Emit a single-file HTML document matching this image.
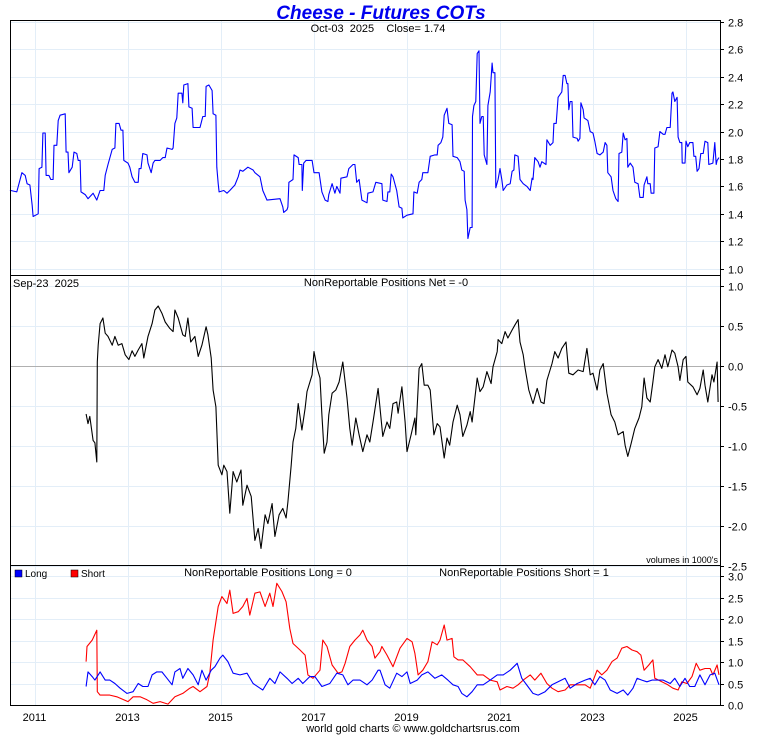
<!DOCTYPE html>
<html><head><meta charset="utf-8"><style>
html,body{margin:0;padding:0;background:#fff;}
svg{display:block;font-family:"Liberation Sans",Arial,sans-serif;}
</style></head><body>
<svg id="chart" width="760" height="735" viewBox="0 0 760 735">
<text x="381" y="19" text-anchor="middle" font-size="19" font-weight="bold" font-style="italic" fill="#0000ee">Cheese - Futures COTs</text>
<g id="grid"></g>
<g id="series"></g>
<g id="frame">
<rect x="10.5" y="20.5" width="710" height="685" fill="none" stroke="#000"/>
<line x1="10" y1="275.5" x2="721" y2="275.5" stroke="#000"/>
<line x1="10" y1="565.5" x2="721" y2="565.5" stroke="#000"/>
</g>
<g id="axes" font-size="11" fill="#000"></g>
<text x="378" y="32" text-anchor="middle" font-size="11" xml:space="preserve">Oct-03  2025    Close= 1.74</text>
<text x="13" y="287" font-size="11" xml:space="preserve">Sep-23  2025</text>
<text x="386" y="286" text-anchor="middle" font-size="11">NonReportable Positions Net = -0</text>
<text x="718" y="563" text-anchor="end" font-size="9">volumes in 1000's</text>
<rect x="15" y="570" width="7" height="7" fill="#0000ff" stroke="#000" stroke-width="0.5"/>
<text x="25" y="577" font-size="10">Long</text>
<rect x="71" y="570" width="7" height="7" fill="#ff0000" stroke="#000" stroke-width="0.5"/>
<text x="81" y="577" font-size="10">Short</text>
<text x="268" y="576" text-anchor="middle" font-size="11">NonReportable Positions Long = 0</text>
<text x="524" y="576" text-anchor="middle" font-size="11">NonReportable Positions Short = 1</text>
<text x="413" y="732" text-anchor="middle" font-size="11">world gold charts © www.goldchartsrus.com</text>
</svg>
<script>
const yearTicks = [2011,2013,2015,2017,2019,2021,2023,2025];
const priceTicks = [1.0,1.2,1.4,1.6,1.8,2.0,2.2,2.4,2.6,2.8];
const netTicks = [1.0,0.5,0.0,-0.5,-1.0,-1.5,-2.0,-2.5];
const posTicks = [0.0,0.5,1.0,1.5,2.0,2.5,3.0];

const priceDates = [2010.47,2010.49,2010.62,2010.73,2010.80,2010.84,2010.90,2010.95,2010.97,2011.08,2011.10,2011.16,2011.18,2011.23,2011.25,2011.31,2011.35,2011.40,2011.42,2011.48,2011.51,2011.55,2011.66,2011.68,2011.72,2011.74,2011.81,2011.85,2011.91,2011.94,2011.98,2012.00,2012.09,2012.15,2012.26,2012.34,2012.41,2012.49,2012.52,2012.58,2012.67,2012.73,2012.75,2012.82,2012.86,2012.90,2012.92,2013.01,2013.05,2013.10,2013.16,2013.23,2013.25,2013.29,2013.33,2013.42,2013.44,2013.51,2013.55,2013.59,2013.70,2013.76,2013.81,2013.85,2013.96,2013.98,2014.02,2014.06,2014.09,2014.17,2014.19,2014.21,2014.30,2014.32,2014.39,2014.41,2014.56,2014.62,2014.67,2014.69,2014.75,2014.82,2014.84,2014.90,2014.92,2014.95,2014.97,2015.07,2015.14,2015.20,2015.31,2015.38,2015.42,2015.48,2015.59,2015.70,2015.74,2015.85,2015.91,2016.00,2016.28,2016.34,2016.36,2016.43,2016.45,2016.47,2016.56,2016.58,2016.67,2016.69,2016.75,2016.76,2016.79,2016.84,2016.97,2017.01,2017.12,2017.18,2017.25,2017.31,2017.33,2017.40,2017.46,2017.50,2017.57,2017.59,2017.72,2017.76,2017.85,2017.89,2017.93,2017.98,2018.04,2018.15,2018.17,2018.28,2018.34,2018.47,2018.49,2018.58,2018.60,2018.64,2018.67,2018.71,2018.79,2018.84,2018.90,2018.92,2019.01,2019.14,2019.16,2019.23,2019.27,2019.33,2019.35,2019.46,2019.51,2019.61,2019.66,2019.68,2019.74,2019.78,2019.81,2019.87,2019.91,2019.98,2020.00,2020.09,2020.15,2020.19,2020.24,2020.26,2020.30,2020.32,2020.37,2020.41,2020.42,2020.45,2020.49,2020.52,2020.56,2020.58,2020.62,2020.65,2020.67,2020.73,2020.75,2020.80,2020.84,2020.86,2020.90,2020.92,2020.97,2021.01,2021.05,2021.08,2021.16,2021.23,2021.27,2021.31,2021.33,2021.40,2021.44,2021.51,2021.59,2021.66,2021.70,2021.72,2021.76,2021.83,2021.87,2021.91,2022.00,2022.02,2022.09,2022.15,2022.17,2022.22,2022.26,2022.34,2022.37,2022.41,2022.45,2022.47,2022.49,2022.52,2022.56,2022.58,2022.67,2022.69,2022.73,2022.75,2022.80,2022.82,2022.90,2022.95,2023.01,2023.05,2023.10,2023.16,2023.23,2023.27,2023.31,2023.33,2023.40,2023.44,2023.50,2023.55,2023.57,2023.63,2023.66,2023.70,2023.74,2023.76,2023.81,2023.87,2023.91,2023.98,2024.02,2024.09,2024.11,2024.17,2024.19,2024.24,2024.26,2024.32,2024.34,2024.41,2024.45,2024.52,2024.56,2024.60,2024.67,2024.71,2024.73,2024.77,2024.82,2024.84,2024.88,2024.92,2024.93,2024.99,2025.01,2025.05,2025.09,2025.16,2025.18,2025.22,2025.25,2025.29,2025.33,2025.38,2025.42,2025.48,2025.50,2025.59,2025.63,2025.66,2025.68,2025.72];
const priceValues = [1.57,1.57,1.56,1.70,1.68,1.62,1.61,1.46,1.38,1.40,1.73,1.74,1.99,1.99,1.68,1.68,1.65,1.65,1.90,1.90,2.08,2.12,2.13,1.85,1.85,1.70,1.74,1.85,1.84,1.79,1.79,1.56,1.54,1.51,1.55,1.50,1.57,1.57,1.68,1.76,1.87,1.88,2.06,2.06,2.01,2.01,1.79,1.77,1.74,1.67,1.63,1.63,1.73,1.73,1.84,1.83,1.77,1.70,1.77,1.79,1.79,1.81,1.81,1.88,1.87,1.88,2.06,2.10,2.28,2.28,2.21,2.34,2.35,2.18,2.17,2.03,2.03,2.11,2.11,2.33,2.34,2.30,2.13,2.12,1.74,1.62,1.56,1.57,1.55,1.57,1.61,1.67,1.72,1.71,1.74,1.72,1.70,1.67,1.57,1.50,1.51,1.45,1.41,1.43,1.45,1.63,1.65,1.83,1.81,1.76,1.76,1.57,1.77,1.79,1.79,1.70,1.70,1.56,1.50,1.49,1.54,1.62,1.55,1.60,1.55,1.66,1.67,1.73,1.76,1.76,1.63,1.65,1.50,1.48,1.55,1.56,1.63,1.62,1.50,1.49,1.56,1.56,1.69,1.67,1.57,1.45,1.44,1.37,1.39,1.40,1.56,1.55,1.63,1.65,1.70,1.70,1.82,1.83,1.83,1.90,1.92,1.96,2.12,2.17,2.06,2.05,1.82,1.81,1.78,1.72,1.71,1.50,1.43,1.22,1.30,1.30,2.11,2.19,2.22,2.57,2.59,2.06,2.11,2.11,1.83,1.76,2.19,2.29,2.50,2.43,2.43,1.59,1.65,1.73,1.65,1.57,1.61,1.62,1.71,1.72,1.83,1.82,1.65,1.62,1.60,1.57,1.66,1.65,1.81,1.78,1.74,1.78,1.76,1.94,1.90,1.92,2.06,2.06,2.25,2.29,2.41,2.41,2.35,2.35,2.16,2.22,2.22,1.96,1.95,1.93,1.95,2.21,2.16,2.10,2.08,2.00,1.99,1.93,1.84,1.83,1.85,1.92,1.90,1.70,1.67,1.57,1.51,1.49,1.84,1.85,1.99,1.94,1.95,1.74,1.77,1.74,1.63,1.62,1.52,1.52,1.61,1.67,1.62,1.62,1.55,1.55,1.88,1.89,2.00,1.98,1.98,2.03,2.03,2.28,2.29,2.22,2.25,1.96,1.92,1.92,1.77,1.77,1.93,1.89,1.92,1.92,1.82,1.82,1.71,1.73,1.84,1.84,1.93,1.92,1.76,1.77,1.92,1.76,1.79,1.81];

const netDates = [2012.11,2012.15,2012.19,2012.26,2012.30,2012.34,2012.35,2012.37,2012.41,2012.47,2012.52,2012.58,2012.67,2012.73,2012.80,2012.88,2012.95,2013.03,2013.10,2013.16,2013.23,2013.31,2013.35,2013.44,2013.53,2013.59,2013.66,2013.74,2013.81,2013.91,2013.98,2014.02,2014.09,2014.19,2014.24,2014.30,2014.36,2014.45,2014.52,2014.60,2014.69,2014.73,2014.80,2014.84,2014.90,2014.95,2015.03,2015.07,2015.14,2015.20,2015.27,2015.35,2015.44,2015.48,2015.57,2015.66,2015.74,2015.81,2015.87,2015.96,2016.02,2016.11,2016.17,2016.26,2016.34,2016.41,2016.45,2016.52,2016.56,2016.62,2016.67,2016.75,2016.82,2016.86,2016.97,2017.01,2017.08,2017.14,2017.18,2017.23,2017.29,2017.33,2017.40,2017.48,2017.55,2017.63,2017.72,2017.78,2017.83,2017.91,2017.98,2018.06,2018.15,2018.21,2018.28,2018.39,2018.49,2018.58,2018.64,2018.71,2018.79,2018.82,2018.90,2018.97,2019.01,2019.10,2019.18,2019.20,2019.27,2019.33,2019.38,2019.46,2019.51,2019.59,2019.66,2019.72,2019.81,2019.87,2019.93,2020.00,2020.09,2020.15,2020.21,2020.30,2020.37,2020.41,2020.52,2020.58,2020.65,2020.73,2020.82,2020.86,2020.95,2020.97,2021.05,2021.12,2021.18,2021.27,2021.33,2021.40,2021.44,2021.51,2021.55,2021.63,2021.72,2021.81,2021.89,2021.96,2022.02,2022.13,2022.19,2022.26,2022.34,2022.43,2022.49,2022.58,2022.69,2022.80,2022.88,2022.95,2023.01,2023.10,2023.16,2023.23,2023.31,2023.40,2023.48,2023.55,2023.66,2023.70,2023.76,2023.83,2023.91,2024.00,2024.06,2024.11,2024.17,2024.24,2024.30,2024.34,2024.41,2024.49,2024.56,2024.62,2024.71,2024.77,2024.84,2024.88,2024.95,2025.01,2025.05,2025.16,2025.25,2025.31,2025.38,2025.42,2025.48,2025.57,2025.61,2025.68,2025.70];
const netValues = [-0.60,-0.72,-0.63,-0.93,-0.96,-1.20,0.05,0.26,0.53,0.60,0.41,0.37,0.26,0.37,0.26,0.28,0.14,0.08,0.19,0.12,0.20,0.28,0.10,0.37,0.53,0.70,0.75,0.66,0.55,0.47,0.43,0.70,0.60,0.39,0.37,0.60,0.30,0.37,0.12,0.26,0.49,0.39,0.10,-0.30,-0.51,-1.24,-1.36,-1.24,-1.32,-1.84,-1.32,-1.45,-1.30,-1.74,-1.49,-1.63,-2.18,-2.03,-2.28,-1.86,-1.97,-1.72,-2.13,-1.86,-1.78,-1.90,-1.70,-1.24,-0.95,-0.78,-0.47,-0.80,-0.53,-0.32,-0.11,0.18,-0.03,-0.15,-0.61,-1.09,-0.95,-0.61,-0.34,-0.30,-0.20,0.05,-0.40,-0.78,-0.99,-0.65,-0.86,-1.07,-0.86,-0.95,-0.70,-0.28,-0.88,-0.70,-0.78,-0.47,-0.45,-0.59,-0.26,-0.70,-1.07,-0.86,-0.65,-0.86,-0.03,0.03,-0.24,-0.24,-0.30,-0.86,-0.72,-0.76,-1.15,-0.90,-0.99,-0.70,-0.49,-0.61,-0.88,-0.74,-0.57,-0.70,-0.15,-0.32,-0.26,-0.07,-0.22,-0.01,0.18,0.33,0.28,0.43,0.35,0.45,0.51,0.58,0.30,0.14,-0.03,-0.30,-0.47,-0.28,-0.45,-0.47,-0.18,0.03,0.18,0.10,0.22,0.30,-0.09,-0.11,-0.05,-0.07,0.22,-0.11,-0.09,-0.30,-0.05,0.03,-0.34,-0.61,-0.70,-0.86,-0.82,-0.99,-1.13,-0.97,-0.78,-0.65,-0.51,-0.15,-0.40,-0.45,-0.20,-0.01,0.08,-0.03,0.14,-0.01,0.20,0.16,-0.01,-0.18,0.08,0.12,-0.20,-0.26,-0.36,-0.28,-0.05,-0.24,-0.45,-0.11,-0.20,0.05,-0.45];

const shortDates = [2012.11,2012.13,2012.24,2012.34,2012.35,2012.41,2012.62,2012.77,2013.01,2013.12,2013.27,2013.42,2013.55,2013.70,2013.87,2014.02,2014.19,2014.34,2014.41,2014.56,2014.71,2014.77,2014.84,2014.95,2015.03,2015.14,2015.20,2015.27,2015.38,2015.48,2015.57,2015.63,2015.74,2015.85,2015.96,2016.06,2016.13,2016.21,2016.32,2016.41,2016.49,2016.56,2016.71,2016.82,2016.88,2016.99,2017.14,2017.20,2017.29,2017.40,2017.53,2017.61,2017.68,2017.78,2017.89,2018.00,2018.06,2018.15,2018.26,2018.32,2018.43,2018.47,2018.58,2018.71,2018.86,2019.01,2019.12,2019.18,2019.25,2019.35,2019.46,2019.55,2019.66,2019.72,2019.81,2019.87,2019.98,2020.02,2020.11,2020.21,2020.37,2020.52,2020.65,2020.80,2020.95,2021.01,2021.16,2021.29,2021.40,2021.51,2021.66,2021.76,2021.89,2022.02,2022.13,2022.26,2022.41,2022.52,2022.67,2022.84,2022.95,2023.10,2023.20,2023.31,2023.42,2023.53,2023.63,2023.74,2023.85,2023.96,2024.04,2024.11,2024.21,2024.30,2024.34,2024.49,2024.62,2024.73,2024.84,2024.92,2025.03,2025.14,2025.23,2025.31,2025.42,2025.53,2025.59,2025.68,2025.72];
const shortValues = [1.01,1.36,1.51,1.74,0.31,0.23,0.23,0.19,0.08,0.19,0.19,0.12,0.04,0.08,0.02,0.19,0.27,0.39,0.43,0.31,0.43,0.74,1.51,2.29,2.52,2.36,2.67,2.13,2.17,2.29,2.48,2.09,2.60,2.63,2.29,2.60,2.29,2.83,2.64,2.40,1.78,1.43,1.28,1.16,0.70,0.62,0.81,1.51,1.36,0.93,0.74,0.77,0.97,1.36,1.51,1.63,1.74,1.51,1.36,1.09,1.24,1.36,1.16,0.89,1.32,1.55,1.47,1.20,0.70,0.81,1.01,1.47,1.40,1.51,1.86,1.51,1.55,1.12,1.05,1.05,0.89,0.70,0.70,0.58,0.54,0.35,0.43,0.39,0.47,0.58,0.70,0.58,0.74,0.50,0.39,0.31,0.35,0.47,0.47,0.47,0.39,0.81,0.70,0.81,1.01,1.09,1.32,1.36,1.28,1.24,1.16,0.81,0.93,1.05,0.62,0.54,0.47,0.39,0.35,0.54,0.50,0.66,0.97,0.81,0.85,0.85,0.70,0.93,0.70];

const longDates = [2012.11,2012.15,2012.24,2012.30,2012.41,2012.52,2012.62,2012.73,2012.84,2012.99,2013.12,2013.23,2013.33,2013.44,2013.53,2013.63,2013.74,2013.85,2013.96,2014.02,2014.13,2014.19,2014.30,2014.41,2014.52,2014.60,2014.69,2014.80,2014.88,2014.99,2015.05,2015.16,2015.27,2015.42,2015.57,2015.70,2015.85,2015.91,2016.06,2016.17,2016.28,2016.43,2016.54,2016.67,2016.77,2016.92,2017.03,2017.18,2017.35,2017.50,2017.63,2017.74,2017.85,2018.00,2018.15,2018.26,2018.39,2018.43,2018.54,2018.64,2018.79,2018.90,2019.01,2019.08,2019.23,2019.33,2019.46,2019.61,2019.76,2019.89,2020.00,2020.11,2020.19,2020.30,2020.41,2020.52,2020.65,2020.80,2020.95,2021.08,2021.23,2021.38,2021.48,2021.61,2021.72,2021.83,2021.98,2022.13,2022.26,2022.41,2022.52,2022.67,2022.84,2022.95,2023.05,2023.16,2023.27,2023.38,2023.53,2023.66,2023.76,2023.87,2023.96,2024.06,2024.17,2024.28,2024.39,2024.52,2024.67,2024.77,2024.88,2024.99,2025.09,2025.20,2025.31,2025.42,2025.53,2025.63,2025.72];
const longValues = [0.43,0.77,0.66,0.58,0.77,0.58,0.58,0.50,0.39,0.27,0.31,0.50,0.43,0.43,0.70,0.77,0.77,0.62,0.47,0.77,0.85,0.62,0.85,0.70,0.47,0.81,0.58,0.81,0.89,1.09,1.16,1.01,0.74,0.70,0.74,0.50,0.39,0.35,0.62,0.50,0.77,0.62,0.50,0.62,0.50,0.66,0.66,0.43,0.50,0.74,0.70,0.47,0.58,0.58,0.47,0.58,0.81,0.81,0.47,0.39,0.74,0.66,0.77,0.50,0.58,0.70,0.77,0.62,0.70,0.58,0.47,0.43,0.27,0.19,0.31,0.47,0.47,0.58,0.70,0.70,0.81,0.97,0.62,0.43,0.27,0.23,0.31,0.47,0.54,0.62,0.39,0.50,0.58,0.62,0.47,0.66,0.58,0.35,0.27,0.35,0.23,0.39,0.62,0.58,0.54,0.58,0.58,0.58,0.50,0.62,0.43,0.62,0.43,0.43,0.70,0.47,0.70,0.74,0.47];

const NS = "http://www.w3.org/2000/svg";
const xOf = t => 34.5 + (t - 2011) * 46.5;
const yPrice = v => 22 + (2.8 - v) * 137;
const yNet = v => 366 - v * 80;
const yPos = v => 705 - v * 43;

function mk(tag, attrs, parent) {
  const el = document.createElementNS(NS, tag);
  for (const k in attrs) el.setAttribute(k, attrs[k]);
  parent.appendChild(el);
  return el;
}
const grid = document.getElementById('grid');
const axes = document.getElementById('axes');
const series = document.getElementById('series');
const GC = "#e3eef8";

yearTicks.forEach(yr => {
  const x = Math.round(xOf(yr)) + 0.5;
  const gl = mk('line', {x1: x, x2: x, y1: 21, y2: 705, stroke: GC}, grid);
  
  
  const tl = mk('text', {x: xOf(yr), y: 721, 'text-anchor': 'middle'}, axes);
  tl.textContent = String(yr);
  
  
});

function yAxis(ticks, yf, dec, skipTop) {
  ticks.forEach(v => {
    const y = Math.round(yf(v)) + 0.5;
    const gl = mk('line', {x1: 11, x2: 720, y1: y, y2: y, stroke: v === 0 && yf === yNet ? "#b0b0b0" : GC}, grid);
    
    
    const tk = mk('line', {x1: 720, x2: 724, y1: y, y2: y, stroke: '#000'}, axes);
    
    
    const tl = mk('text', {x: 728, y: y + 4}, axes);
    tl.textContent = v.toFixed(dec);
    
    
  });
}
yAxis(priceTicks, yPrice, 1);
yAxis(netTicks, yNet, 1);
yAxis(posTicks, yPos, 1);

function line(dates, vals, yf, color, name) {
  const pts = dates.map((t, i) => xOf(t).toFixed(1) + ',' + yf(vals[i]).toFixed(1)).join(' ');
  const pl = mk('polyline', {points: pts, fill: 'none', stroke: color, 'stroke-width': 1.1, 'stroke-linejoin': 'round'}, series);
  
  
}
line(priceDates, priceValues, yPrice, '#0000ff', 'price-line');
line(netDates, netValues, yNet, '#000000', 'net-positions-line');
line(shortDates, shortValues, yPos, '#ff0000', 'short-positions-line');
line(longDates, longValues, yPos, '#0000ff', 'long-positions-line');
</script>
</body></html>
